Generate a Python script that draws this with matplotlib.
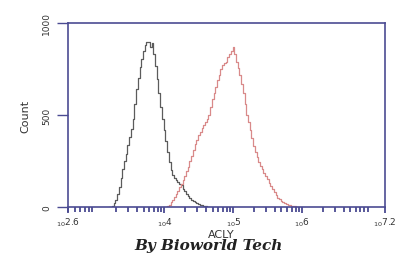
import matplotlib
matplotlib.use("Agg")
import matplotlib.pyplot as plt
from matplotlib.ticker import FixedLocator, LogLocator, NullFormatter
import numpy as np

# histogram counts, bins of 0.025 decade (log10 of fluorescence)
bin_width = 0.025

ctrl_start = 3.20
ctrl_count = [0, 3, 8, 20, 40, 70, 110, 160, 207, 250,
              290, 335, 380, 425, 480, 560, 641, 700, 760, 805,
              850, 880, 897, 895, 870, 890, 830, 765, 695, 620,
              545, 480, 420, 360, 300, 245, 200, 175, 160, 148,
              138, 128, 118, 100, 85, 70, 58, 48, 40, 34,
              28, 22, 18, 14, 10, 7, 5, 2, 0]

acly_start = 4.00
acly_count = [0, 2, 5, 14, 25, 40, 55, 72, 90, 108,
              125, 148, 170, 195, 220, 250, 280, 310, 340, 365,
              390, 410, 430, 445, 460, 478, 500, 545, 587, 620,
              650, 690, 720, 750, 770, 780, 790, 815, 830, 850,
              870, 830, 790, 755, 720, 670, 620, 560, 500, 460,
              420, 375, 330, 300, 270, 245, 225, 205, 185, 168,
              152, 133, 115, 97, 80, 65, 50, 42, 35, 28,
              22, 18, 14, 11, 8, 6, 4, 3, 2, 1, 0]

xtick_exp = [2.6, 4, 5, 6, 7.2]
xtick_labels = ["2.6", "4", "5", "6", "7.2"]
ytick_vals = [0, 500, 1000]

navy = "#4b4b92"

ctrl_x = 10 ** (ctrl_start + bin_width * np.arange(len(ctrl_count)))
acly_x = 10 ** (acly_start + bin_width * np.arange(len(acly_count)))

fig = plt.figure(figsize=(3.98, 2.55), dpi=100)
ax = fig.add_axes([0.171, 0.184, 0.796, 0.722])

ax.step(ctrl_x, ctrl_count, where="mid", color="#5c5c5c", lw=0.9)
ax.step(acly_x, acly_count, where="mid", color="#d98a8a", lw=0.9)

ax.set_xscale("log")
ax.set_xlim(10 ** 2.6, 10 ** 7.2)
ax.set_ylim(0, 1000)

ax.xaxis.set_major_locator(FixedLocator([10 ** e for e in xtick_exp]))
ax.set_xticklabels([r"$_{10}$" + s for s in xtick_labels], fontsize=6.5, color="#333333")
ax.xaxis.set_minor_locator(LogLocator(base=10, subs=np.arange(2, 10), numticks=20))
ax.xaxis.set_minor_formatter(NullFormatter())
ax.tick_params(axis="x", which="major", direction="out", length=4, width=1.3, color=navy, pad=2)
ax.tick_params(axis="x", which="minor", direction="out", length=3.5, width=1.3, color=navy)

ax.set_yticks(ytick_vals)
ax.set_yticklabels([str(v) for v in ytick_vals], rotation=90, va="center", fontsize=6.5, color="#333333")
ax.tick_params(axis="y", direction="out", length=8, width=1.0, color=navy, pad=4)

for s in ax.spines.values():
    s.set_color(navy)
    s.set_linewidth(1.2)

ax.set_ylabel("Count", fontsize=8, color="#333333", labelpad=9)
fig.text(0.555, 0.08, "ACLY", ha="center", va="center", fontsize=8, color="#333333")
fig.text(0.525, 0.036, "By Bioworld Tech", ha="center", va="center", fontsize=11,
         family="DejaVu Serif", weight="bold", style="italic", color="#222222")

fig.savefig("out.png", dpi=100)
